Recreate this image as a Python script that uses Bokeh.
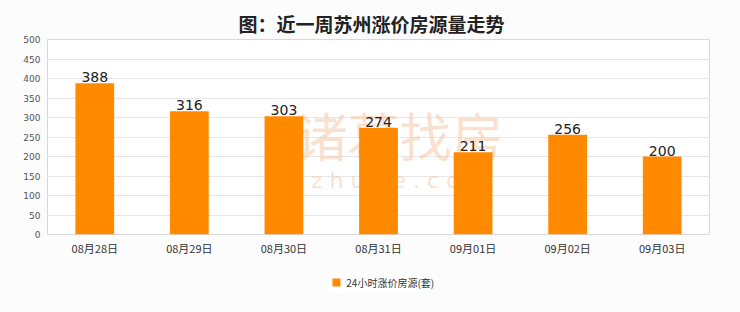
from bokeh.plotting import figure
from bokeh.layouts import column
from bokeh.models import ColumnDataSource, Label, Title, SingleIntervalTicker, Range1d
from bokeh.core.properties import value
from bokeh.embed import file_html
from bokeh.resources import INLINE

categories = ["08月28日", "08月29日", "08月30日", "08月31日", "09月01日", "09月02日", "09月03日"]
counts = [388, 316, 303, 274, 211, 256, 200]
series_name = "24小时涨价房源(套)"
title_text = "图：近一周苏州涨价房源量走势"
bar_color = "#ff8a00"
bg = "#fcfcfc"

src = ColumnDataSource(dict(cat=categories, val=counts, lbl=[str(v) for v in counts]))

p = figure(x_range=categories, y_range=(0, 500), width=740, height=270,
           output_backend="svg", toolbar_location=None,
           min_border_left=47, min_border_right=31, min_border_top=39, min_border_bottom=36,
           background_fill_color="#ffffff", border_fill_color=bg)

t = Title(text=title_text, align="left", text_font="Noto Sans CJK SC",
          text_font_size="19px", text_font_style="bold", text_color="#222222",
          offset=191, standoff=6)
p.add_layout(t, "above")

# watermark (behind the bars)
p.add_layout(Label(x=352, y=100, x_units="screen", y_units="screen", text="诸葛找房",
                   text_font="Noto Sans CJK SC", text_font_size="52px", level="underlay",
                   text_color="#f5c9a8", text_alpha=0.55, text_align="center", text_baseline="middle"))
p.add_layout(Label(x=352, y=54, x_units="screen", y_units="screen", text="z h u g e . c o m",
                   text_font="DejaVu Sans", text_font_size="22px", level="underlay",
                   text_color="#f5c9a8", text_alpha=0.55, text_align="center", text_baseline="middle"))

r = p.vbar(x="cat", top="val", width=0.41, source=src, fill_color=bar_color, line_color=None)
p.text(x="cat", y="val", text="lbl", source=src, text_align="center", text_baseline="bottom",
       y_offset=-1, text_font=value("DejaVu Sans"), text_font_size="14px", text_color="#222222")

p.yaxis.ticker = SingleIntervalTicker(interval=50)
p.yaxis.major_label_text_font = "DejaVu Sans"
p.yaxis.major_label_text_font_size = "9px"
p.yaxis.major_label_text_color = "#555555"
p.xaxis.major_label_text_font = "Noto Sans CJK SC"
p.xaxis.major_label_text_font_size = "11px"
p.xaxis.major_label_text_color = "#333333"
for ax in (p.xaxis, p.yaxis):
    ax.axis_line_color = None
    ax.major_tick_line_color = None
    ax.minor_tick_line_color = None
    ax.major_tick_out = 0
    ax.major_tick_in = 0
    ax.minor_tick_out = 0
p.yaxis.major_label_standoff = 7
p.xaxis.major_label_standoff = 5
p.xgrid.grid_line_color = None
p.ygrid.grid_line_color = "#e6e6e6"
p.outline_line_color = "#d8d8d8"

# legend strip
lg = figure(width=740, height=42, x_range=Range1d(0, 740), y_range=Range1d(0, 42),
            output_backend="svg", toolbar_location=None,
            min_border=0, border_fill_color=bg, background_fill_color=bg)
lg.axis.visible = False
lg.grid.visible = False
lg.outline_line_color = None
lg.rect(x=[370], y=[30], width=112, height=20, fill_color="#ffffff", line_color=None)
lg.scatter(x=[323], y=[30], marker="square", size=8, fill_color=bar_color, line_color=None)
lg.text(x=[334], y=[30], text=[series_name], text_baseline="middle", text_align="left",
        text_font=value("Noto Sans CJK SC"), text_font_size="10px", text_color="#333333")

layout = column(p, lg, spacing=0)
open("out.html", "w").write(file_html(layout, INLINE))
